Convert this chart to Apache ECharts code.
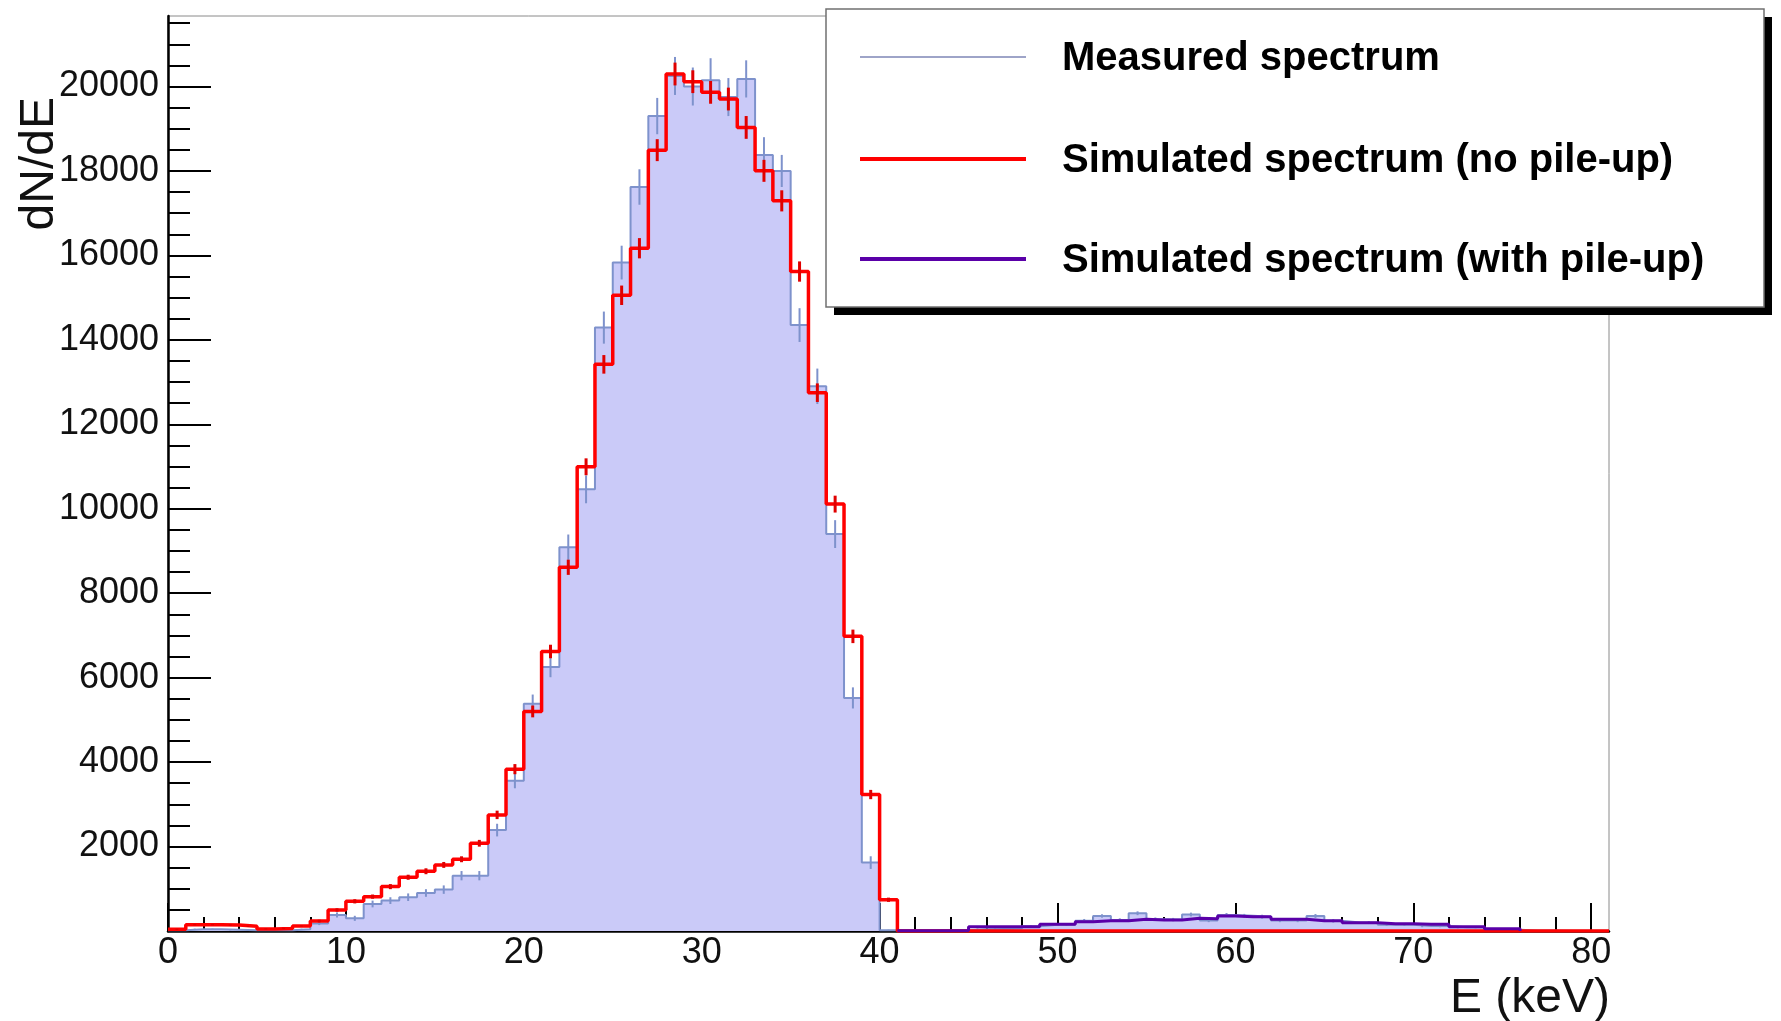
<!DOCTYPE html>
<html>
<head>
<meta charset="utf-8">
<script src="https://cdn.jsdelivr.net/npm/echarts@6/dist/echarts.min.js"></script>
<style>
html,body{margin:0;padding:0;background:#ffffff;}
#chart{width:1781px;height:1021px;}
</style>
</head>
<body>
<div id="chart"></div>
<script>
// ---- bins (lower edges, keV), width 1 keV ----
const binLow = [0,1,2,3,4,5,6,7,8,9,10,11,12,13,14,15,16,17,18,19,20,21,22,23,24,25,26,27,28,29,30,31,32,33,34,35,36,37,38,39,40,41,42,43,44,45,46,47,48,49,50,51,52,53,54,55,56,57,58,59,60,61,62,63,64,65,66,67,68,69,70,71,72,73,74,75,76,77,78,79,80];
const binWidth = 1;

// ---- Measured spectrum (dN/dE per bin) ----
const measured = [20,40,40,30,20,15,15,40,180,380,300,640,720,800,900,980,1310,1310,2390,3560,5380,6250,9090,10460,14290,15830,17620,19300,20250,20000,20150,19750,20180,18380,18000,14350,12900,9400,5520,1620,20,10,10,15,20,40,50,60,110,150,150,245,356,260,420,280,270,390,250,380,360,340,250,250,356,240,200,200,150,150,120,120,90,90,30,30,10,10,5,5,5];
const measuredErr = [15,15,15,15,15,15,15,15,40,60,60,80,80,90,90,100,110,110,150,180,220,240,300,330,380,400,420,430,450,450,520,450,440,420,380,400,420,330,250,150,10,10,10,10,10,20,20,20,30,30,30,40,40,40,45,40,40,45,40,45,45,45,40,40,45,40,35,35,30,30,30,30,25,25,15,15,10,10,5,5,5];

// ---- Simulated spectrum (no pile-up) ----
const simNoPileup = [40,150,150,140,110,50,60,120,237,498,703,814,1051,1273,1415,1565,1699,2078,2750,3833,5200,6620,8614,10994,13420,15056,16170,18493,20296,20114,19862,19703,19031,18003,17292,15618,12749,10110,6978,3232,740,0,0,0,0,0,0,0,0,0,0,0,0,0,0,0,0,0,0,0,0,0,0,0,0,0,0,0,0,0,0,0,0,0,0,0,0,0,0,0,0];
const simNoPileupErr = [15,15,15,15,15,15,15,15,30,40,50,50,60,60,70,70,70,80,100,120,140,160,180,200,220,230,240,260,270,270,270,270,270,260,250,240,220,200,160,110,50,0,0,0,0,0,0,0,0,0,0,0,0,0,0,0,0,0,0,0,0,0,0,0,0,0,0,0,0,0,0,0,0,0,0,0,0,0,0,0,0];

// ---- Simulated spectrum (with pile-up), visible tail only ----
const simPileup = [null,null,null,null,null,null,null,null,null,null,null,null,null,null,null,null,null,null,null,null,null,null,null,null,null,null,null,null,null,null,null,null,null,null,null,null,null,null,null,null,null,5,5,5,10,100,100,100,100,158,158,217,245,245,277,261,261,300,290,356,340,340,277,277,245,245,197,197,174,174,158,158,103,103,55,55,null,null,null,null,null];

// ---- axis ticks / labels ----
const xMajorTicks = [0,10,20,30,40,50,60,70,80];
const xMinorTicks = [2,4,6,8,12,14,16,18,22,24,26,28,32,34,36,38,42,44,46,48,52,54,56,58,62,64,66,68,72,74,76,78];
const yMajorTicks = [2000,4000,6000,8000,10000,12000,14000,16000,18000,20000];
const yMinorTicks = [500,1000,1500,2000,2500,3000,3500,4000,4500,5000,5500,6000,6500,7000,7500,8000,8500,9000,9500,10000,10500,11000,11500,12000,12500,13000,13500,14000,14500,15000,15500,16000,16500,17000,17500,18000,18500,19000,19500,20000,20500,21000,21500];
const xMin = 0, xMax = 81, yMin = 0, yMax = 21670;

const names = ['Measured spectrum','Simulated spectrum (no pile-up)','Simulated spectrum (with pile-up)'];
const legendColors = ['#9ea4c8','#ff0000','#5a00a8'];
const legendWidths = [2,4,4];

function stepPoints(vals){
  const pts = [];
  let open = false;
  for (let i = 0; i < binLow.length; i++) {
    const v = vals[i];
    if (v == null) {
      if (open) { pts.push([binLow[i], 0]); pts.push([binLow[i], null]); open = false; }
      continue;
    }
    pts.push([binLow[i], v]);
    pts.push([binLow[i] + binWidth, v]);
    open = true;
  }
  return pts;
}
function errData(vals, errs){
  const d = [];
  for (let i = 0; i < binLow.length; i++) {
    if (vals[i] == null || !errs[i]) continue;
    d.push([binLow[i] + binWidth/2, vals[i], errs[i]]);
  }
  return d;
}
function errRenderer(color, width){
  return function(params, api){
    const x = api.value(0), y = api.value(1), e = api.value(2);
    const p1 = api.coord([x, Math.max(0, y - e)]);
    const p2 = api.coord([x, y + e]);
    return {type:'line', shape:{x1:p1[0], y1:p1[1], x2:p2[0], y2:p2[1]},
            style:{stroke:color, lineWidth:width}};
  };
}

// ---- legend box (drawn as graphic) ----
const LEG = {x:826, y:9, w:938, h:298, shadow:8, lineX1:860, lineX2:1026, textX:1062, rows:[59,161,261]};
const legendEls = [
  {type:'rect', z:100, shape:{x:LEG.x+LEG.shadow, y:LEG.y+LEG.shadow, width:LEG.w, height:LEG.h}, style:{fill:'#000'}},
  {type:'rect', z:101, shape:{x:LEG.x, y:LEG.y, width:LEG.w, height:LEG.h}, style:{fill:'#fff', stroke:'#707070', lineWidth:1.5}}
];
names.forEach(function(n, i){
  legendEls.push({type:'line', z:102, shape:{x1:LEG.lineX1, y1:LEG.rows[i]-2, x2:LEG.lineX2, y2:LEG.rows[i]-2},
                  style:{stroke:legendColors[i], lineWidth:legendWidths[i]}});
  legendEls.push({type:'text', z:102, x:LEG.textX, y:LEG.rows[i],
                  style:{text:n, font:'bold 40px "Liberation Sans"', fill:'#000', textAlign:'left', textVerticalAlign:'middle'}});
});

const FONT = 'Liberation Sans';
const chart = echarts.init(document.getElementById('chart'), null, {renderer:'canvas'});
chart.setOption({
  animation:false,
  backgroundColor:'#ffffff',
  grid:{left:168,right:172,top:16,bottom:90,show:true,borderColor:'#8a8a8a',borderWidth:1,
        backgroundColor:'transparent',containLabel:false,outerBoundsMode:'none'},
  xAxis:[
    {type:'value',min:xMin,max:xMax,position:'bottom',
     axisLine:{show:true,onZero:false,lineStyle:{color:'#000',width:2.5}},
     axisTick:{show:true,inside:true,length:28,customValues:xMajorTicks,lineStyle:{color:'#000',width:2}},
     axisLabel:{show:true,customValues:xMajorTicks,margin:4,fontFamily:FONT,fontSize:36,color:'#111',
                formatter:function(v){return String(v);}},
     splitLine:{show:false}},
    {type:'value',min:xMin,max:xMax,position:'bottom',offset:0,
     axisLine:{show:false},
     axisTick:{show:true,inside:true,length:14,customValues:xMinorTicks,lineStyle:{color:'#000',width:2}},
     axisLabel:{show:false},splitLine:{show:false}}
  ],
  yAxis:[
    {type:'value',min:yMin,max:yMax,position:'left',
     axisLine:{show:true,onZero:false,lineStyle:{color:'#000',width:2.5}},
     axisTick:{show:true,inside:true,length:43,customValues:yMajorTicks,lineStyle:{color:'#000',width:2}},
     axisLabel:{show:true,customValues:yMajorTicks,margin:9,fontFamily:FONT,fontSize:36,color:'#111',
                formatter:function(v){return String(v);}},
     splitLine:{show:false}},
    {type:'value',min:yMin,max:yMax,position:'left',offset:0,
     axisLine:{show:false},
     axisTick:{show:true,inside:true,length:22,customValues:yMinorTicks,lineStyle:{color:'#000',width:2}},
     axisLabel:{show:false},splitLine:{show:false}}
  ],
  graphic:[
    {type:'text',x:40,y:97,rotation:Math.PI/2,
     style:{text:'dN/dE',font:'48px "Liberation Sans"',fill:'#111',textAlign:'right',textVerticalAlign:'middle'}},
    {type:'text',x:1610,y:999,
     style:{text:'E (keV)',font:'48px "Liberation Sans"',fill:'#111',textAlign:'right',textVerticalAlign:'middle'}},
    {type:'group', z:100, children:legendEls}
  ],
  series:[
    {name:names[0],type:'line',xAxisIndex:0,yAxisIndex:0,data:stepPoints(measured),
     showSymbol:false,symbol:'none',z:2,
     lineStyle:{color:'#7e92cc',width:2},areaStyle:{color:'#cacaf8',opacity:1,origin:'start'}},
    {name:'Measured errors',type:'custom',xAxisIndex:0,yAxisIndex:0,data:errData(measured,measuredErr),
     encode:{x:0,y:1},z:3,renderItem:errRenderer('#7e92cc',2)},
    {name:names[1],type:'line',xAxisIndex:0,yAxisIndex:0,data:stepPoints(simNoPileup),
     showSymbol:false,symbol:'none',z:4,lineStyle:{color:'#ff0000',width:3.5}},
    {name:'No pile-up errors',type:'custom',xAxisIndex:0,yAxisIndex:0,data:errData(simNoPileup,simNoPileupErr),
     encode:{x:0,y:1},z:5,renderItem:errRenderer('#e00000',3)},
    {name:names[2],type:'line',xAxisIndex:0,yAxisIndex:0,data:stepPoints(simPileup),
     showSymbol:false,symbol:'none',z:6,connectNulls:false,lineStyle:{color:'#5a00a8',width:3}}
  ]
});
</script>
</body>
</html>
